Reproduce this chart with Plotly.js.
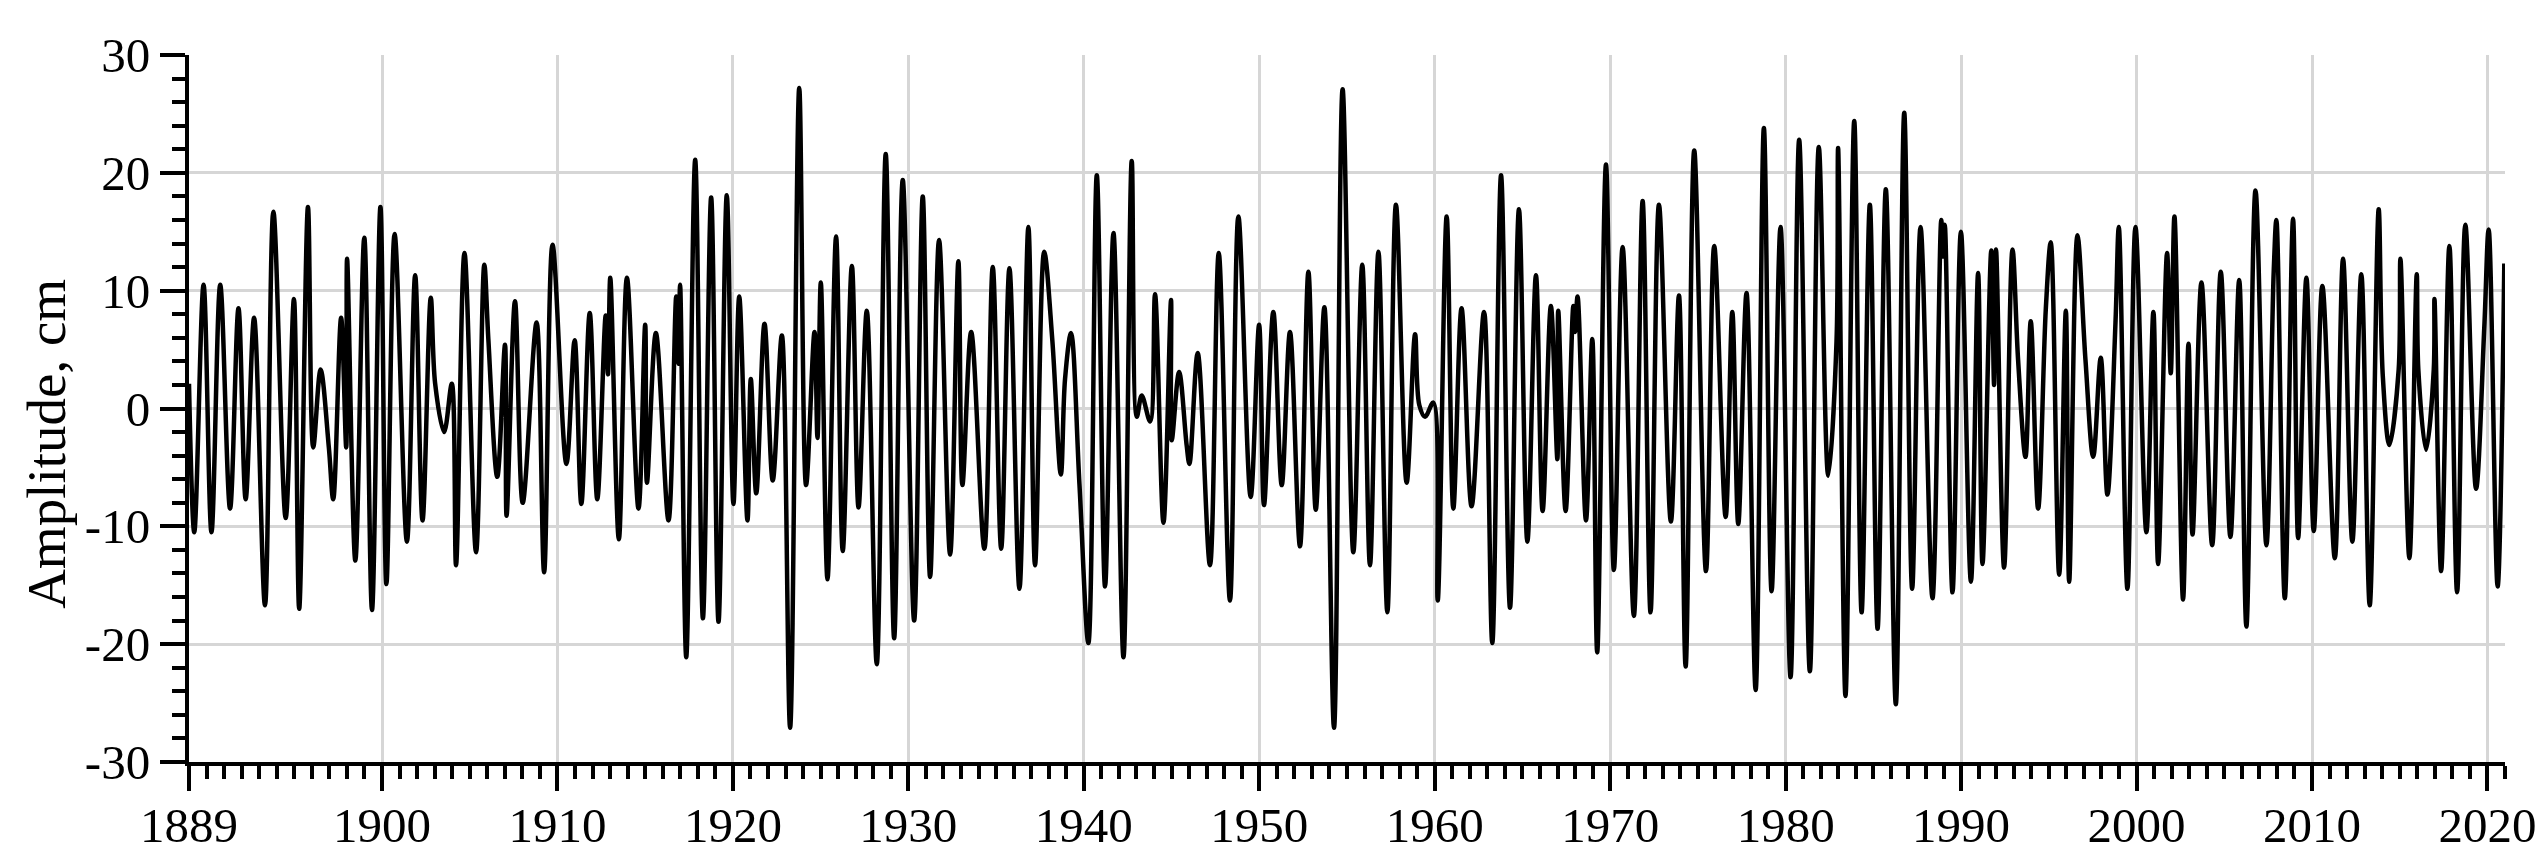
<!DOCTYPE html>
<html>
<head>
<meta charset="utf-8">
<script src="https://cdn.plot.ly/plotly-3.0.1.min.js"></script>
<style>
  html, body { margin: 0; padding: 0; background: #ffffff; }
  #chart { width: 2548px; height: 860px; }
</style>
</head>
<body>
<div id="chart"></div>
<script>
// Decimal years of the curve's turning points
var years = [
  1889.00, 1889.30, 1889.83, 1890.28, 1890.78, 1891.34, 1891.82, 1892.23, 1892.71, 1893.33,
  1893.81, 1894.51, 1894.98, 1895.28, 1895.78, 1896.08, 1896.50, 1896.97, 1897.22, 1897.67,
  1897.96, 1898.01, 1898.48, 1898.99, 1899.43, 1899.91, 1900.25, 1900.72, 1901.42, 1901.89,
  1902.31, 1902.78, 1903.03, 1903.54, 1903.98, 1904.22, 1904.70, 1905.36, 1905.83, 1906.06,
  1906.57, 1907.01, 1907.10, 1907.58, 1908.02, 1908.81, 1909.24, 1909.72, 1910.51, 1910.98,
  1911.36, 1911.84, 1912.27, 1912.75, 1912.88, 1913.01, 1913.50, 1913.96,
  1914.62, 1915.00, 1915.10, 1915.61, 1916.33, 1916.77, 1916.90, 1916.99, 1917.34, 1917.85,
  1918.29, 1918.76, 1919.18, 1919.65, 1920.03, 1920.36, 1920.83, 1921.02, 1921.33, 1921.80,
  1922.27, 1922.79, 1923.26, 1923.78, 1924.17, 1924.65, 1924.82, 1925.01, 1925.39, 1925.88,
  1926.26, 1926.78, 1927.16, 1927.63, 1928.20, 1928.71, 1929.19, 1929.68, 1930.33, 1930.82,
  1931.24, 1931.75, 1932.38, 1932.85, 1933.08, 1933.58, 1934.33, 1934.81, 1935.29, 1935.76,
  1936.33, 1936.84, 1937.22, 1937.74, 1938.21, 1938.69,
  1938.93, 1939.27, 1939.75, 1940.26, 1940.74, 1941.21, 1941.69, 1942.26, 1942.73, 1943.02,
  1943.30, 1943.78, 1944.06, 1944.54, 1944.97, 1945.01, 1945.43, 1945.86, 1946.02, 1946.49,
  1947.19, 1947.69, 1948.33, 1948.81, 1949.51, 1949.99, 1950.27, 1950.80, 1951.28, 1951.75,
  1952.32, 1952.80, 1953.22, 1953.71, 1954.26, 1954.75, 1955.36, 1955.87, 1956.31, 1956.79,
  1957.30, 1957.79, 1958.40, 1958.88, 1959.12, 1959.45, 1959.92, 1960.17, 1960.68, 1961.06,
  1961.53, 1962.10, 1962.81, 1963.28, 1963.78,
  1964.29, 1964.80, 1965.28, 1965.77, 1966.15, 1966.62, 1966.99, 1967.04, 1967.46, 1967.90,
  1967.99, 1968.14, 1968.62, 1968.98, 1969.26, 1969.76, 1970.21, 1970.71, 1971.35, 1971.85,
  1972.30, 1972.78, 1973.46, 1973.92, 1974.30, 1974.79, 1975.46, 1975.93, 1976.58, 1976.96,
  1977.30, 1977.77, 1978.29, 1978.76, 1979.20, 1979.71, 1980.28, 1980.77, 1981.38, 1981.89,
  1982.43, 1982.90, 1982.99, 1983.41, 1983.91, 1984.33, 1984.80, 1985.24, 1985.71, 1986.28,
  1986.76, 1987.21, 1987.69, 1988.37, 1988.87, 1988.97, 1989.07,
  1989.51, 1989.99, 1990.56, 1990.97, 1991.22, 1991.72, 1991.88, 1991.99, 1992.45, 1992.93,
  1993.25, 1993.67, 1993.97, 1994.39, 1994.83, 1995.11, 1995.59, 1995.97, 1996.16, 1996.63,
  1997.09, 1997.53, 1997.96, 1998.34, 1998.80, 1998.99, 1999.48, 1999.94, 2000.56, 2000.96,
  2001.23, 2001.74, 2001.95, 2002.16, 2002.65, 2002.96, 2003.19, 2003.70, 2004.31, 2004.80,
  2005.35, 2005.85, 2006.26, 2006.78, 2007.40, 2007.82, 2007.97, 2008.45, 2008.92, 2009.21,
  2009.68, 2010.10, 2010.59, 2011.30, 2011.77, 2012.30, 2012.81, 2013.29, 2013.80,
  2014.03, 2014.41, 2014.94, 2015.04, 2015.55, 2015.97, 2016.06, 2016.50, 2016.94, 2016.98,
  2017.36, 2017.83, 2018.27, 2018.74, 2019.35, 2019.82, 2020.07, 2020.58, 2020.96
];

// Amplitude (cm) at those turning points
var amplitude = [
    2.1, -10.5,  10.5, -10.5,  10.5,  -8.5,   8.5,  -7.7,   7.7, -16.7,
   16.7,  -9.3,   9.3, -17.0,  17.1,  -3.3,   3.3,  -3.3,  -7.7,   7.7,
   -3.3,  12.7, -12.9,  14.5, -17.1,  17.1, -14.9,  14.8, -11.3,  11.3,
   -9.5,   9.4,   2.1,  -2.0,   2.1, -13.3,  13.2, -12.2,  12.2,   5.9,
   -5.8,   5.4,  -9.1,   9.1,  -8.0,   7.3, -13.9,  13.9,  -4.7,   5.8,
   -8.1,   8.1,  -7.7,   7.9,   2.9,  11.1, -11.1,  11.1,
   -8.5,   7.1,  -6.3,   6.4,  -9.5,   9.5,   3.8,  10.5, -21.1,  21.1,
  -17.8,  17.9, -18.1,  18.1,  -8.1,   9.5,  -9.5,   2.5,  -7.2,   7.2,
   -6.1,   6.2, -27.1,  27.2,  -6.5,   6.5,  -2.5,  10.7, -14.5,  14.6,
  -12.1,  12.1,  -8.4,   8.3, -21.7,  21.6, -19.5,  19.4, -18.0,  18.0,
  -14.3,  14.3, -12.4,  12.5,  -6.5,   6.5, -11.9,  12.0, -11.9,  11.9,
  -15.3,  15.4, -13.3,  13.3,   5.7,  -5.6,
    2.5,   6.4,  -6.4, -19.9,  19.8, -15.1,  14.9, -21.1,  21.0,  -0.7,
    1.1,  -1.1,   9.7,  -9.7,   9.2,  -2.7,   3.1,  -3.1,  -4.7,   4.7,
  -13.3,  13.2, -16.3,  16.3,  -7.5,   7.1,  -8.2,   8.2,  -6.5,   6.5,
  -11.7,  11.6,  -8.6,   8.6, -27.1,  27.1, -12.2,  12.2, -13.3,  13.3,
  -17.3,  17.3,  -6.3,   6.3,   0.3,  -0.7,   0.5, -16.3,  16.3,  -8.5,
    8.5,  -8.3,   8.2, -19.9,  19.8,
  -16.9,  16.9, -11.3,  11.3,  -8.7,   8.7,  -4.3,   8.3,  -8.7,   8.7,
    6.5,   9.5,  -9.5,   5.9, -20.7,  20.7, -13.7,  13.7, -17.6,  17.6,
  -17.3,  17.3,  -9.6,   9.6, -21.9,  21.9, -13.8,  13.8,  -9.2,   8.2,
   -9.8,   9.8, -23.9,  23.8, -15.5,  15.4, -22.8,  22.8, -22.3,  22.2,
   -5.7,   5.7,  22.1, -24.4,  24.4, -17.3,  17.3, -18.7,  18.6, -25.1,
   25.1, -15.3,  15.4, -16.1,  16.0,  12.9,  15.6,
  -15.6,  15.0, -14.7,  11.5, -13.2,  13.4,   2.0,  13.5, -13.5,  13.5,
    4.1,  -4.1,   7.4,  -8.5,   8.5,  14.1, -14.1,   8.3, -14.7,  14.7,
    4.1,  -4.1,   4.3,  -7.3,   7.3,  15.4, -15.3,  15.4, -10.5,   8.2,
  -13.2,  13.2,   3.0,  16.3, -16.2,   5.5, -10.7,  10.7, -11.6,  11.6,
  -10.9,  10.9, -18.5,  18.5, -11.6,  11.7,  16.0, -16.1,  16.1, -11.0,
   11.1, -10.4,  10.4, -12.7,  12.7, -11.3,  11.4, -16.7,  16.9,
    2.9,  -3.1,   3.3,  12.7, -12.7,  11.4,   3.3,  -3.5,   3.3,   9.3,
  -13.8,  13.8, -15.6,  15.6,  -6.8,   6.9,  15.2, -15.1,  12.3
];

var xTickVals = [1889, 1900, 1910, 1920, 1930, 1940, 1950, 1960, 1970, 1980, 1990, 2000, 2010, 2020];
var xTickText = ['1889', '1900', '1910', '1920', '1930', '1940', '1950', '1960', '1970', '1980', '1990', '2000', '2010', '2020'];
var yTickVals = [-30, -20, -10, 0, 10, 20, 30];
var yTickText = ['-30', '-20', '-10', '0', '10', '20', '30'];
var yTitle = 'Amplitude, cm';

var serif = 'Liberation Serif, Times New Roman, serif';

var trace = {
  type: 'scatter',
  mode: 'lines',
  x: years,
  y: amplitude,
  line: { color: '#000000', width: 4.5, shape: 'spline', smoothing: 1 },
  hoverinfo: 'skip',
  showlegend: false
};

var layout = {
  width: 2548,
  height: 860,
  margin: { l: 189, r: 43, t: 55, b: 98, pad: 0 },
  paper_bgcolor: '#ffffff',
  plot_bgcolor: '#ffffff',
  showlegend: false,
  xaxis: {
    range: [1889, 2021],
    tickmode: 'array',
    tickvals: xTickVals,
    ticktext: xTickText,
    ticks: 'outside',
    ticklen: 25,
    tickwidth: 4,
    tickcolor: '#000000',
    ticklabelstandoff: -8,
    showline: true,
    linewidth: 4,
    linecolor: '#000000',
    showgrid: true,
    gridcolor: '#d6d6d6',
    gridwidth: 3,
    zeroline: false,
    automargin: false,
    tickfont: { family: serif, size: 49, color: '#000000' },
    minor: {
      tickmode: 'linear', tick0: 1889, dtick: 1,
      ticks: 'outside', ticklen: 13, tickwidth: 4, tickcolor: '#000000',
      showgrid: false
    }
  },
  yaxis: {
    range: [-30, 30],
    tickmode: 'array',
    tickvals: yTickVals,
    ticktext: yTickText,
    ticks: 'outside',
    ticklen: 25,
    tickwidth: 4,
    tickcolor: '#000000',
    showline: true,
    linewidth: 4,
    linecolor: '#000000',
    showgrid: true,
    gridcolor: '#d6d6d6',
    gridwidth: 3,
    zeroline: false,
    automargin: false,
    tickfont: { family: serif, size: 49, color: '#000000' },
    minor: {
      tickmode: 'linear', tick0: -30, dtick: 2,
      ticks: 'outside', ticklen: 13, tickwidth: 4, tickcolor: '#000000',
      showgrid: false
    }
  },
  annotations: [{
    text: yTitle,
    xref: 'paper', yref: 'paper',
    x: 0, y: 0.45,
    xanchor: 'center', yanchor: 'middle',
    xshift: -142,
    textangle: -90,
    showarrow: false,
    font: { family: serif, size: 55, color: '#000000' }
  }]
};

Plotly.newPlot('chart', [trace], layout, { displayModeBar: false, staticPlot: true });
</script>
</body>
</html>
